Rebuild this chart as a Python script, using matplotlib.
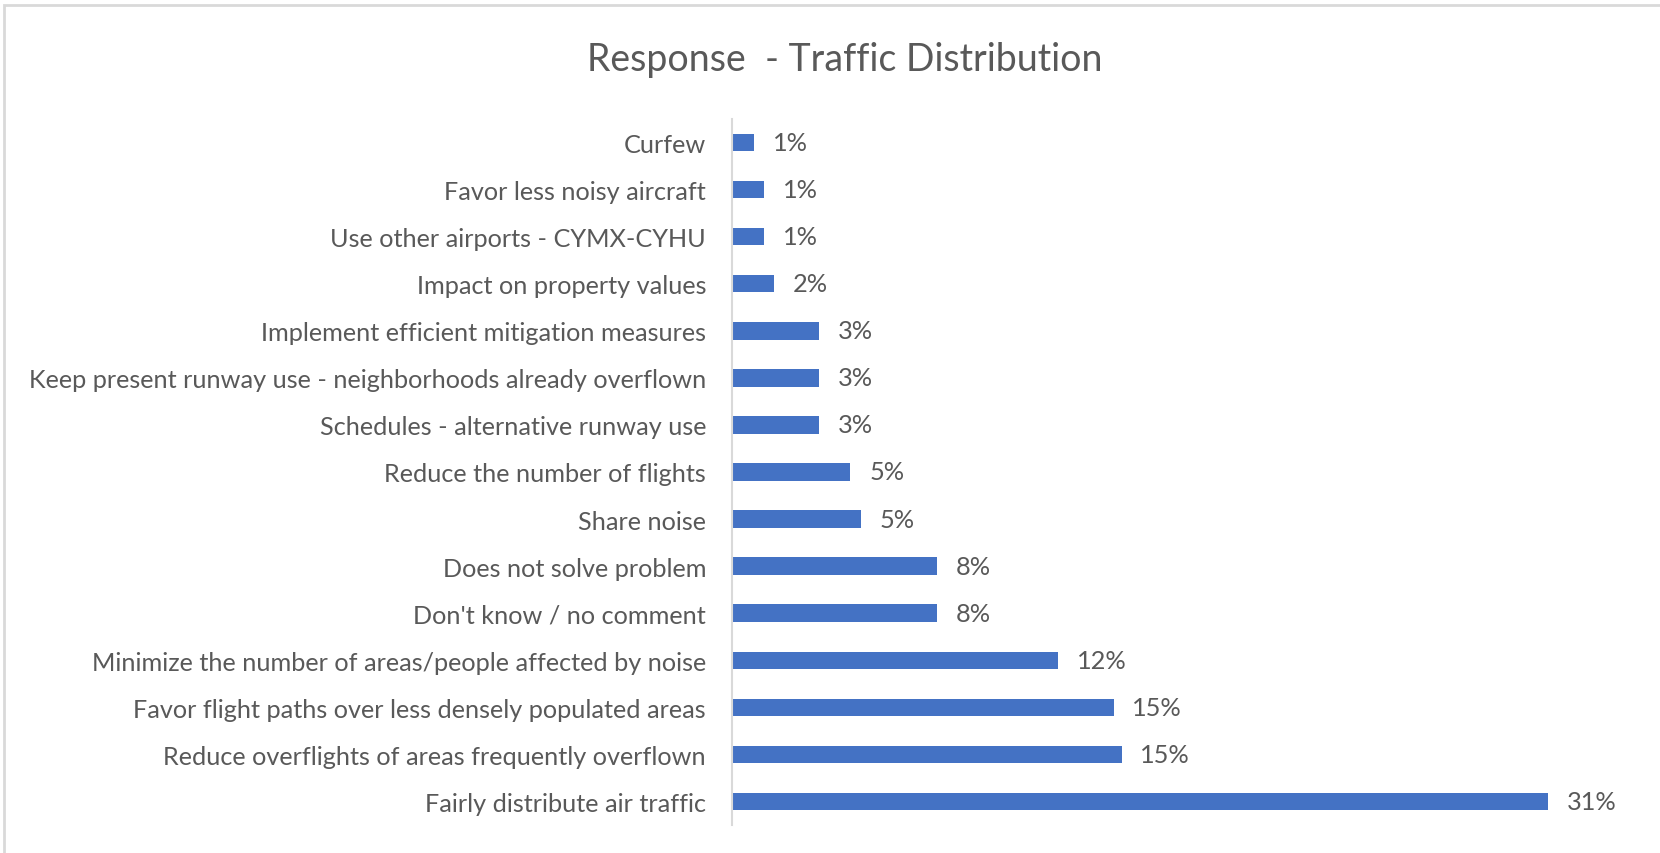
import matplotlib
matplotlib.use("Agg")
import matplotlib.pyplot as plt
from matplotlib.patches import Rectangle

plt.rcParams['font.family'] = ['Lato', 'DejaVu Sans']

# Данные (сверху вниз как на графике)
categories = [
    "Curfew",
    "Favor less noisy aircraft",
    "Use other airports - CYMX-CYHU",
    "Impact on property values",
    "Implement efficient mitigation measures",
    "Keep present runway use - neighborhoods already overflown",
    "Schedules - alternative runway use",
    "Reduce the number of flights",
    "Share noise",
    "Does not solve problem",
    "Don't know / no comment",
    "Minimize the number of areas/people affected by noise",
    "Favor flight paths over less densely populated areas",
    "Reduce overflights of areas frequently overflown",
    "Fairly distribute air traffic",
]
values = [0.84, 1.22, 1.22, 1.6, 3.3, 3.3, 3.3, 4.5, 4.9, 7.8, 7.8, 12.4, 14.5, 14.8, 31.0]
labels = ["1%", "1%", "1%", "2%", "3%", "3%", "3%", "5%", "5%", "8%", "8%", "12%", "15%", "15%", "31%"]

text_color = "#595959"
bar_color = "#4472C4"

fig = plt.figure(figsize=(16.6, 8.54), dpi=100)
ax = fig.add_axes([732 / 1660, 28 / 854, 908 / 1660, 706 / 854])

y = list(range(len(categories)))
ax.barh(y, values, height=0.37, color=bar_color)
ax.set_ylim(len(categories) - 0.5, -0.5)
ax.set_xlim(0, 34.5)

for yi, v, lab in zip(y, values, labels):
    ax.annotate(lab, (v, yi), xytext=(13.5, 0), textcoords="offset points",
                va="center", ha="left", fontsize=18.3, color=text_color)

ax.set_yticks(y)
ax.set_yticklabels(categories, fontsize=18.2, color=text_color)
ax.tick_params(axis="y", length=0, pad=26 * 0.72)
ax.set_xticks([])
for s in ["top", "right", "bottom"]:
    ax.spines[s].set_visible(False)
ax.spines["left"].set_color("#D9D9D9")
ax.spines["left"].set_linewidth(1.5)

fig.text(845 / 1660, 1 - 60 / 854, "Response  - Traffic Distribution",
         ha="center", va="center", fontsize=27, color=text_color)

# рамка диаграммы
fig.patches.append(Rectangle((4 / 1660, -0.02), 1.1, 1 - 6 / 854 + 0.02,
                             transform=fig.transFigure, fill=False,
                             edgecolor="#D9D9D9", linewidth=2))

fig.savefig("out.png", dpi=100)
